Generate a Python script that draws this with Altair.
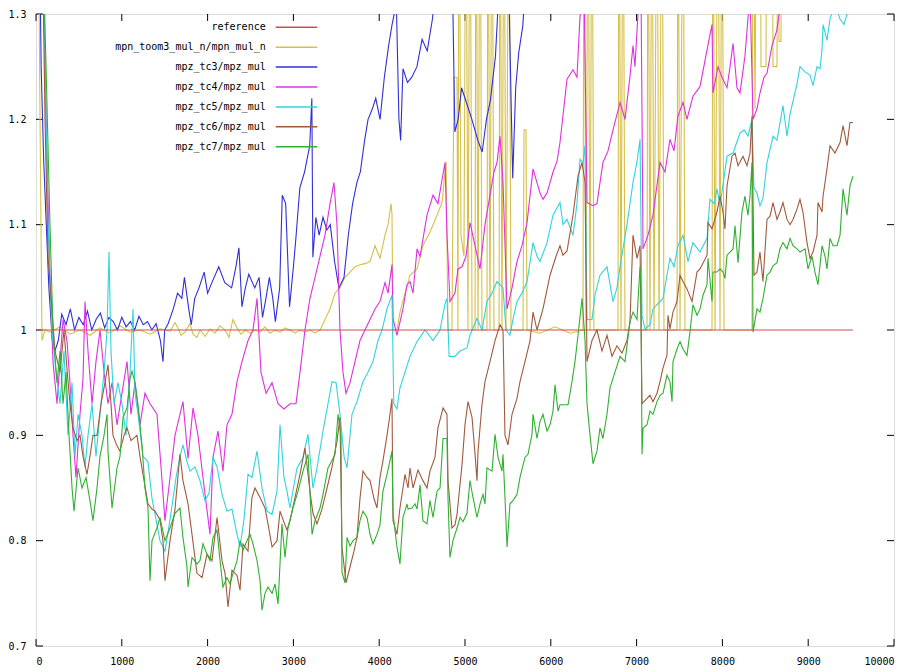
import altair as alt
import pandas as pd

NAMES = ["reference", "mpn_toom3_mul_n/mpn_mul_n", "mpz_tc3/mpz_mul", "mpz_tc4/mpz_mul",
         "mpz_tc5/mpz_mul", "mpz_tc6/mpz_mul", "mpz_tc7/mpz_mul"]
COLORS = ["#d04c4c", "#d6c04a", "#3030d8", "#e030e0", "#30d4dc", "#a05a3c", "#30b030"]

X_TICKS = [0, 1000, 2000, 3000, 4000, 5000, 6000, 7000, 8000, 9000, 10000]
Y_TICKS = [0.7, 0.8, 0.9, 1.0, 1.1, 1.2, 1.3]

REFERENCE = [(20, 1.0), (9520, 1.0)]

TOOM3 = [(23, 1.45), (47, 1.2), (70, 0.99), (105, 1.0), (163, 0.998), (280, 1.003), (396, 0.996),
         (513, 1.0), (629, 0.995), (746, 1.002), (862, 0.997), (979, 1.004), (1096, 0.998),
         (1212, 1.0), (1329, 0.996), (1445, 1.001), (1562, 0.999), (1620, 1.007), (1655, 1.002),
         (1690, 0.995), (1737, 0.998), (1795, 1.006), (1830, 0.996), (1876, 0.993), (1911, 1.0),
         (1970, 0.994), (2028, 1.001), (2086, 0.997), (2145, 1.004), (2203, 1.0), (2249, 0.993),
         (2296, 1.01), (2343, 1.002), (2389, 0.996), (2436, 1.0), (2494, 0.997), (2552, 1.0),
         (2611, 0.998), (2669, 1.003), (2727, 0.997), (2786, 1.0), (2844, 0.998), (2902, 1.002),
         (2960, 1.0), (3019, 0.997), (3077, 1.0), (3135, 0.998), (3193, 1.0), (3252, 0.997),
         (3310, 1.0), (3368, 1.01), (3427, 1.02), (3485, 1.035), (3543, 1.04), (3601, 1.05),
         (3660, 1.055), (3718, 1.06), (3776, 1.062), (3834, 1.063), (3893, 1.065), (3951, 1.08),
         (4009, 1.068), (4068, 1.09), (4103, 1.1), (4138, 1.12), (4149, 1.11), (4161, 1.0),
         (4207, 1.0), (4242, 1.017), (4301, 1.035), (4359, 1.052), (4441, 1.058), (4510, 1.08),
         (4592, 1.093), (4674, 1.109), (4732, 1.121), (4779, 1.16), (4802, 1.0), (4848, 1.0),
         (4871, 1.24), (4907, 1.24), (4918, 1.0), (4930, 1.5), (4953, 1.09), (4988, 1.07),
         (5012, 1.5), (5035, 1.0), (5058, 1.5), (5082, 1.0), (5117, 1.0), (5128, 1.5), (5152, 1.0),
         (5175, 1.5), (5198, 1.0), (5256, 1.0), (5268, 1.5), (5291, 1.0), (5315, 1.5), (5338, 1.0),
         (5397, 1.0), (5408, 1.5), (5431, 1.0), (5455, 1.5), (5478, 1.0), (5513, 1.5), (5536, 1.0),
         (5676, 1.0), (5688, 1.19), (5711, 1.19), (5723, 1.0), (5874, 0.997), (6049, 1.003),
         (6224, 0.997), (6375, 1.0), (6387, 1.5), (6410, 1.0), (6434, 1.5), (6457, 1.0),
         (6480, 1.5), (6503, 1.0), (6783, 1.0), (6795, 1.5), (6818, 1.0), (6842, 1.5), (6865, 1.0),
         (7121, 1.0), (7133, 1.5), (7156, 1.0), (7179, 1.5), (7203, 1.0), (7238, 1.5), (7261, 1.0),
         (7296, 1.5), (7319, 1.0), (7471, 1.0), (7482, 1.5), (7506, 1.0), (7541, 1.5), (7564, 1.0),
         (7879, 1.0), (7890, 1.5), (7914, 1.0), (7949, 1.5), (7972, 1.0), (7995, 1.5), (8019, 1.0),
         (8345, 1.0), (8357, 1.5), (8380, 1.21), (8403, 1.5), (8438, 1.5), (8450, 1.25),
         (8508, 1.25), (8520, 1.5), (8578, 1.5), (8590, 1.25), (8636, 1.25), (8648, 1.5),
         (8660, 1.274), (8683, 1.274), (8695, 1.5), (8788, 1.5)]

TC3 = [(30, 1.45), (60, 1.25), (90, 1.16), (120, 1.1), (150, 1.04), (190, 0.99), (220, 0.98),
       (260, 0.99), (300, 1.015), (350, 1.005), (400, 1.02), (450, 1.0), (500, 1.012),
       (550, 1.005), (600, 1.018), (650, 1.0), (700, 1.01), (750, 1.016), (800, 1.002),
       (850, 1.012), (900, 1.008), (950, 1.0), (1000, 1.012), (1050, 1.003), (1100, 1.008),
       (1150, 1.0), (1200, 1.013), (1250, 1.005), (1300, 1.008), (1350, 1.0), (1400, 1.006),
       (1450, 0.99), (1480, 0.97), (1500, 1.0), (1540, 1.006), (1600, 1.02), (1650, 1.035),
       (1700, 1.03), (1730, 1.05), (1780, 1.02), (1810, 1.005), (1850, 1.03), (1900, 1.04),
       (1960, 1.055), (2000, 1.035), (2050, 1.045), (2130, 1.06), (2200, 1.045), (2280, 1.04),
       (2330, 1.06), (2365, 1.078), (2400, 1.022), (2440, 1.04), (2480, 1.053), (2550, 1.04),
       (2600, 1.05), (2640, 1.012), (2680, 1.03), (2720, 1.05), (2760, 1.03), (2790, 1.008),
       (2840, 1.04), (2870, 1.128), (2910, 1.12), (2955, 1.022), (3000, 1.06), (3030, 1.088),
       (3075, 1.135), (3130, 1.15), (3190, 1.175), (3215, 1.22), (3227, 1.069), (3262, 1.107),
       (3300, 1.09), (3345, 1.107), (3390, 1.095), (3430, 1.1), (3480, 1.065), (3530, 1.04),
       (3590, 1.05), (3640, 1.09), (3690, 1.12), (3740, 1.14), (3780, 1.15), (3830, 1.18),
       (3870, 1.2), (3920, 1.21), (3960, 1.22), (4010, 1.2), (4060, 1.24), (4110, 1.27),
       (4150, 1.29), (4200, 1.31), (4230, 1.2), (4250, 1.18), (4277, 1.248), (4330, 1.235),
       (4380, 1.24), (4440, 1.25), (4500, 1.276), (4560, 1.265), (4620, 1.295), (4700, 1.35),
       (4800, 1.38), (4850, 1.35), (4882, 1.188), (4920, 1.2), (4960, 1.23), (5000, 1.22),
       (5080, 1.2), (5150, 1.18), (5200, 1.169), (5250, 1.2), (5296, 1.218), (5355, 1.26),
       (5400, 1.33), (5450, 1.4), (5496, 1.38), (5556, 1.144), (5591, 1.23), (5626, 1.263),
       (5674, 1.289), (5720, 1.35), (5800, 1.4), (5900, 1.45)]

TC4 = [(70, 1.4), (117, 1.2), (163, 1.05), (198, 0.97), (245, 0.93), (280, 0.97), (315, 1.01),
       (361, 0.99), (396, 0.95), (431, 0.9), (466, 0.86), (513, 0.92), (548, 0.954), (571, 1.027),
       (606, 0.98), (653, 0.93), (699, 0.97), (746, 1.0), (793, 0.96), (839, 0.93), (886, 0.95),
       (944, 0.91), (1002, 0.94), (1061, 0.97), (1107, 0.92), (1154, 0.95), (1212, 0.91),
       (1270, 0.94), (1329, 0.93), (1410, 0.92), (1457, 0.87), (1503, 0.819), (1562, 0.86),
       (1620, 0.9), (1678, 0.92), (1713, 0.932), (1772, 0.878), (1830, 0.926), (1888, 0.9),
       (1946, 0.86), (2028, 0.806), (2063, 0.879), (2121, 0.904), (2179, 0.866), (2226, 0.91),
       (2284, 0.92), (2343, 0.951), (2401, 0.97), (2471, 0.99), (2529, 1.0), (2576, 1.03),
       (2622, 0.96), (2681, 0.94), (2751, 0.95), (2821, 0.93), (2890, 0.925), (2960, 0.93),
       (3030, 0.93), (3077, 0.96), (3135, 1.0), (3193, 1.03), (3252, 1.05), (3310, 1.07),
       (3368, 1.09), (3427, 1.12), (3473, 1.14), (3508, 1.1), (3543, 1.0), (3578, 0.96),
       (3613, 0.94), (3660, 0.95), (3718, 0.97), (3776, 0.99), (3834, 1.0), (3893, 1.01),
       (3951, 1.02), (4009, 1.027), (4068, 1.045), (4103, 1.035), (4149, 1.062), (4161, 1.011),
       (4207, 0.995), (4277, 1.02), (4324, 1.043), (4359, 1.046), (4394, 1.035), (4441, 1.077),
       (4476, 1.07), (4557, 1.109), (4627, 1.128), (4685, 1.12), (4767, 1.159), (4790, 1.09),
       (4825, 1.027), (4883, 1.035), (4918, 1.058), (4965, 1.06), (5012, 1.07), (5058, 1.102),
       (5117, 1.08), (5175, 1.058), (5233, 1.1), (5291, 1.128), (5338, 1.15), (5373, 1.159),
       (5408, 1.184), (5443, 1.14), (5490, 1.02), (5548, 1.04), (5606, 1.065), (5664, 1.08),
       (5723, 1.102), (5793, 1.153), (5839, 1.14), (5874, 1.13), (5909, 1.124), (5956, 1.13),
       (6026, 1.15), (6072, 1.16), (6107, 1.178), (6189, 1.238), (6259, 1.247), (6305, 1.24),
       (6340, 1.297), (6387, 1.33), (6422, 1.121), (6492, 1.118), (6538, 1.12), (6608, 1.159),
       (6667, 1.17), (6725, 1.19), (6807, 1.216), (6865, 1.2), (6923, 1.241), (6958, 1.27),
       (6981, 1.25), (7016, 1.3), (7051, 1.33), (7075, 1.077), (7133, 1.09), (7191, 1.109),
       (7273, 1.159), (7331, 1.15), (7389, 1.181), (7436, 1.17), (7482, 1.203), (7541, 1.216),
       (7587, 1.2), (7657, 1.222), (7739, 1.231), (7821, 1.266), (7879, 1.29), (7890, 1.225),
       (7949, 1.25), (7995, 1.24), (8054, 1.23), (8089, 1.25), (8124, 1.272), (8170, 1.23),
       (8205, 1.225), (8263, 1.26), (8322, 1.32), (8357, 1.2), (8403, 1.21), (8438, 1.225),
       (8485, 1.24), (8520, 1.244), (8578, 1.27), (8636, 1.285), (8695, 1.32), (8788, 1.36),
       (8904, 1.4)]

TC5 = [(70, 1.4), (105, 1.25), (140, 1.1), (186, 1.0), (233, 0.96), (280, 0.93), (326, 0.98),
       (373, 0.9), (420, 0.95), (455, 0.88), (490, 0.92), (536, 0.9), (571, 0.87), (606, 0.9),
       (653, 0.93), (699, 0.88), (746, 0.92), (793, 0.96), (828, 1.0), (851, 1.074), (874, 0.98),
       (909, 0.93), (956, 0.95), (1002, 0.93), (1049, 0.9), (1096, 0.96), (1131, 1.02),
       (1154, 0.94), (1189, 0.92), (1247, 0.88), (1305, 0.875), (1352, 0.84), (1399, 0.82),
       (1445, 0.8), (1503, 0.79), (1562, 0.82), (1632, 0.86), (1678, 0.88), (1713, 0.891),
       (1760, 0.875), (1795, 0.866), (1853, 0.87), (1911, 0.857), (1970, 0.838), (2016, 0.845),
       (2063, 0.879), (2110, 0.87), (2168, 0.844), (2226, 0.828), (2284, 0.83), (2343, 0.806),
       (2378, 0.794), (2424, 0.82), (2471, 0.863), (2517, 0.86), (2576, 0.885), (2634, 0.85),
       (2692, 0.828), (2751, 0.825), (2809, 0.847), (2844, 0.91), (2890, 0.86), (2925, 0.847),
       (2960, 0.831), (3042, 0.869), (3112, 0.879), (3170, 0.901), (3228, 0.85), (3275, 0.869),
       (3345, 0.904), (3403, 0.93), (3450, 0.951), (3497, 0.95), (3543, 0.92), (3590, 0.88),
       (3625, 0.869), (3683, 0.92), (3741, 0.932), (3811, 0.951), (3869, 0.96), (3928, 0.97),
       (3986, 0.99), (4033, 1.0), (4091, 1.02), (4149, 1.033), (4170, 0.93), (4207, 0.925),
       (4242, 0.945), (4301, 0.96), (4359, 0.975), (4441, 0.989), (4534, 1.0), (4627, 0.99),
       (4709, 1.0), (4767, 1.025), (4790, 1.03), (4815, 0.975), (4883, 0.975), (4942, 0.98),
       (5023, 0.983), (5058, 0.995), (5140, 1.011), (5198, 1.0), (5256, 1.027), (5315, 1.035),
       (5373, 1.046), (5443, 1.04), (5478, 1.0), (5524, 0.995), (5559, 1.01), (5606, 1.027),
       (5664, 1.035), (5723, 1.046), (5793, 1.083), (5839, 1.07), (5874, 1.065), (5956, 1.083),
       (6026, 1.109), (6107, 1.121), (6142, 1.1), (6189, 1.105), (6259, 1.09), (6305, 1.12),
       (6340, 1.162), (6375, 1.159), (6399, 1.175), (6422, 1.01), (6480, 1.01), (6515, 1.033),
       (6573, 1.052), (6655, 1.06), (6725, 1.027), (6771, 1.04), (6807, 1.06), (6888, 1.1),
       (6958, 1.14), (7005, 1.16), (7040, 1.181), (7063, 1.014), (7098, 1.001), (7156, 1.005),
       (7191, 1.02), (7249, 1.025), (7308, 1.03), (7354, 1.052), (7389, 1.068), (7436, 1.06),
       (7482, 1.08), (7541, 1.09), (7599, 1.065), (7657, 1.083), (7739, 1.074), (7821, 1.087),
       (7855, 1.124), (7902, 1.12), (7937, 1.134), (7972, 1.118), (8054, 1.165), (8124, 1.168),
       (8205, 1.187), (8252, 1.19), (8298, 1.184), (8345, 1.2), (8368, 1.135), (8403, 1.13),
       (8438, 1.118), (8473, 1.125), (8520, 1.159), (8590, 1.184), (8636, 1.18), (8706, 1.213),
       (8753, 1.184), (8788, 1.205), (8870, 1.234), (8904, 1.25), (8963, 1.245), (9021, 1.242),
       (9056, 1.232), (9103, 1.25), (9138, 1.248), (9161, 1.266), (9173, 1.29), (9219, 1.275),
       (9254, 1.295), (9312, 1.31), (9371, 1.295), (9417, 1.29), (9452, 1.3), (9510, 1.31)]

TC6 = [(70, 1.4), (105, 1.2), (140, 1.07), (186, 1.02), (221, 0.98), (280, 0.96), (326, 1.0),
       (361, 0.963), (396, 0.93), (431, 0.907), (478, 0.895), (513, 0.9), (548, 0.88),
       (594, 0.863), (629, 0.88), (664, 0.9), (711, 0.9), (758, 0.93), (804, 0.95), (839, 0.967),
       (874, 0.93), (897, 0.9), (944, 0.89), (979, 0.885), (1026, 0.9), (1061, 0.907),
       (1107, 0.895), (1177, 0.9), (1212, 0.88), (1247, 0.863), (1305, 0.835), (1352, 0.83),
       (1387, 0.828), (1445, 0.82), (1480, 0.8), (1503, 0.762), (1562, 0.8), (1620, 0.83),
       (1678, 0.882), (1713, 0.857), (1772, 0.835), (1818, 0.806), (1876, 0.769), (1935, 0.765),
       (1993, 0.787), (2051, 0.781), (2110, 0.822), (2168, 0.781), (2203, 0.769), (2238, 0.737),
       (2284, 0.772), (2343, 0.767), (2378, 0.753), (2413, 0.797), (2471, 0.79), (2517, 0.841),
       (2552, 0.85), (2611, 0.841), (2669, 0.831), (2704, 0.816), (2751, 0.794), (2809, 0.8),
       (2844, 0.828), (2879, 0.82), (2925, 0.81), (2960, 0.819), (3019, 0.841), (3077, 0.863),
       (3135, 0.888), (3193, 0.847), (3228, 0.826), (3275, 0.816), (3333, 0.83), (3392, 0.85),
       (3450, 0.87), (3508, 0.894), (3543, 0.917), (3566, 0.794), (3613, 0.76), (3660, 0.775),
       (3706, 0.79), (3741, 0.803), (3776, 0.84), (3811, 0.866), (3858, 0.86), (3893, 0.857),
       (3939, 0.84), (3974, 0.831), (4009, 0.86), (4044, 0.876), (4091, 0.9), (4126, 0.92),
       (4149, 0.935), (4161, 0.819), (4207, 0.806), (4242, 0.831), (4301, 0.863), (4336, 0.85),
       (4359, 0.869), (4394, 0.85), (4452, 0.867), (4510, 0.857), (4557, 0.85), (4592, 0.866),
       (4650, 0.879), (4685, 0.907), (4744, 0.926), (4790, 0.92), (4802, 0.857), (4848, 0.812),
       (4883, 0.815), (4907, 0.825), (4965, 0.872), (5000, 0.91), (5035, 0.932), (5082, 0.917),
       (5117, 0.882), (5140, 0.857), (5152, 0.885), (5198, 0.929), (5233, 0.951), (5291, 0.97),
       (5350, 0.99), (5408, 1.005), (5443, 1.0), (5466, 0.9), (5501, 0.891), (5548, 0.92),
       (5606, 0.935), (5641, 0.951), (5699, 0.97), (5758, 0.99), (5793, 1.017), (5839, 1.0),
       (5909, 1.02), (5991, 1.052), (6061, 1.07), (6107, 1.08), (6142, 1.071), (6189, 1.075),
       (6259, 1.109), (6317, 1.146), (6364, 1.159), (6399, 1.14), (6422, 0.97), (6480, 0.99),
       (6538, 1.0), (6597, 0.98), (6655, 0.995), (6713, 0.975), (6771, 0.985), (6830, 0.978),
       (6888, 0.99), (6923, 1.008), (6958, 1.09), (7005, 1.068), (7040, 1.08), (7063, 0.93),
       (7121, 0.935), (7156, 0.938), (7191, 0.932), (7238, 0.94), (7273, 0.951), (7308, 0.964),
       (7354, 0.976), (7366, 1.014), (7389, 1.001), (7424, 1.017), (7471, 1.027), (7506, 1.052),
       (7541, 1.046), (7587, 1.039), (7646, 1.027), (7704, 1.055), (7739, 1.058), (7821, 1.071),
       (7832, 1.102), (7879, 1.096), (7937, 1.112), (7972, 1.127), (8007, 1.112), (8030, 1.096),
       (8054, 1.137), (8112, 1.165), (8147, 1.168), (8182, 1.156), (8240, 1.165), (8287, 1.156),
       (8322, 1.168), (8345, 1.203), (8368, 1.052), (8403, 1.055), (8438, 1.074), (8473, 1.046),
       (8520, 1.105), (8555, 1.108), (8590, 1.121), (8636, 1.105), (8671, 1.112), (8706, 1.121),
       (8753, 1.105), (8788, 1.1), (8823, 1.105), (8870, 1.115), (8904, 1.124), (8939, 1.112),
       (8986, 1.083), (9021, 1.068), (9056, 1.074), (9103, 1.09), (9114, 1.121), (9161, 1.112),
       (9173, 1.127), (9219, 1.153), (9254, 1.175), (9312, 1.168), (9371, 1.178), (9406, 1.194),
       (9452, 1.175), (9487, 1.197), (9522, 1.197)]

TC7 = [(70, 1.4), (117, 1.25), (163, 1.1), (198, 1.0), (245, 0.95), (280, 0.98), (315, 0.93),
       (350, 0.96), (385, 0.9), (420, 0.85), (443, 0.828), (490, 0.869), (536, 0.85), (583, 0.86),
       (629, 0.838), (664, 0.819), (711, 0.85), (746, 0.88), (793, 0.9), (828, 0.92), (839, 0.885),
       (886, 0.831), (944, 0.869), (979, 0.88), (1014, 0.917), (1061, 0.926), (1096, 0.954),
       (1119, 0.961), (1154, 0.95), (1189, 0.929), (1235, 0.891), (1270, 0.85), (1305, 0.831),
       (1329, 0.762), (1352, 0.8), (1410, 0.812), (1445, 0.822), (1503, 0.8), (1562, 0.812),
       (1620, 0.826), (1678, 0.831), (1713, 0.803), (1760, 0.775), (1772, 0.756), (1818, 0.784),
       (1876, 0.778), (1911, 0.781), (1946, 0.797), (1993, 0.787), (2028, 0.781), (2063, 0.803),
       (2110, 0.81), (2145, 0.781), (2179, 0.756), (2226, 0.765), (2261, 0.759), (2296, 0.769),
       (2343, 0.781), (2378, 0.8), (2413, 0.791), (2459, 0.8), (2494, 0.806), (2529, 0.797),
       (2576, 0.781), (2611, 0.762), (2634, 0.734), (2669, 0.75), (2704, 0.756), (2751, 0.75),
       (2786, 0.759), (2821, 0.74), (2867, 0.816), (2902, 0.784), (2937, 0.812), (2995, 0.831),
       (3054, 0.847), (3112, 0.866), (3170, 0.882), (3217, 0.806), (3252, 0.819), (3310, 0.831),
       (3345, 0.844), (3403, 0.869), (3450, 0.876), (3485, 0.882), (3520, 0.92), (3555, 0.9),
       (3566, 0.77), (3601, 0.76), (3625, 0.803), (3660, 0.795), (3695, 0.8), (3741, 0.803),
       (3776, 0.819), (3811, 0.828), (3858, 0.822), (3893, 0.806), (3928, 0.797), (3974, 0.806),
       (4009, 0.815), (4044, 0.847), (4091, 0.863), (4126, 0.876), (4149, 0.885), (4161, 0.826),
       (4207, 0.794), (4242, 0.778), (4277, 0.822), (4324, 0.835), (4336, 0.83), (4382, 0.831),
       (4417, 0.835), (4441, 0.83), (4476, 0.853), (4510, 0.819), (4557, 0.816), (4592, 0.838),
       (4627, 0.822), (4674, 0.847), (4709, 0.85), (4744, 0.897), (4790, 0.897), (4802, 0.84),
       (4825, 0.784), (4860, 0.8), (4907, 0.812), (4942, 0.822), (4977, 0.818), (5023, 0.826),
       (5058, 0.857), (5093, 0.841), (5140, 0.822), (5175, 0.835), (5210, 0.844), (5233, 0.835),
       (5256, 0.869), (5315, 0.866), (5350, 0.901), (5385, 0.879), (5431, 0.866), (5443, 0.882),
       (5466, 0.841), (5490, 0.794), (5524, 0.835), (5559, 0.838), (5606, 0.844), (5641, 0.86),
       (5699, 0.879), (5734, 0.882), (5781, 0.901), (5793, 0.92), (5839, 0.897), (5874, 0.913),
       (5909, 0.92), (5956, 0.904), (5991, 0.91), (6026, 0.923), (6049, 0.948), (6084, 0.923),
       (6107, 0.929), (6142, 0.929), (6201, 0.929), (6247, 0.951), (6282, 0.97), (6317, 0.995),
       (6364, 1.03), (6399, 0.99), (6422, 0.93), (6457, 0.9), (6492, 0.873), (6538, 0.885),
       (6573, 0.907), (6608, 0.897), (6655, 0.92), (6690, 0.945), (6748, 0.96), (6807, 0.975),
       (6865, 0.97), (6923, 1.008), (6958, 1.017), (7005, 1.01), (7016, 1.027), (7040, 1.06),
       (7051, 1.04), (7063, 0.882), (7075, 0.907), (7121, 0.91), (7156, 0.923), (7191, 0.92),
       (7238, 0.932), (7273, 0.938), (7308, 0.94), (7354, 0.957), (7389, 0.951), (7413, 0.932),
       (7424, 0.97), (7471, 0.982), (7506, 0.989), (7541, 0.982), (7587, 0.976), (7622, 0.998),
       (7657, 1.024), (7704, 1.014), (7739, 1.02), (7774, 1.033), (7821, 1.043), (7832, 1.068),
       (7879, 1.027), (7890, 1.055), (7937, 1.055), (7972, 1.058), (8007, 1.055), (8030, 1.049),
       (8054, 1.071), (8089, 1.074), (8124, 1.077), (8147, 1.099), (8182, 1.064), (8228, 1.112),
       (8263, 1.127), (8298, 1.109), (8322, 1.127), (8345, 1.159), (8357, 0.998), (8403, 1.02),
       (8438, 1.017), (8473, 1.03), (8520, 1.052), (8555, 1.055), (8590, 1.061), (8636, 1.064),
       (8671, 1.077), (8706, 1.083), (8753, 1.077), (8788, 1.087), (8823, 1.08), (8870, 1.077),
       (8904, 1.074), (8963, 1.077), (8998, 1.058), (9044, 1.07), (9079, 1.055), (9114, 1.043),
       (9161, 1.08), (9196, 1.07), (9219, 1.058), (9254, 1.087), (9289, 1.08), (9336, 1.08),
       (9371, 1.09), (9406, 1.134), (9452, 1.109), (9487, 1.137), (9522, 1.146)]

SERIES = {
    "reference": REFERENCE,
    "mpn_toom3_mul_n/mpn_mul_n": TOOM3,
    "mpz_tc3/mpz_mul": TC3,
    "mpz_tc4/mpz_mul": TC4,
    "mpz_tc5/mpz_mul": TC5,
    "mpz_tc6/mpz_mul": TC6,
    "mpz_tc7/mpz_mul": TC7,
}
DRAW_ORDER = ["mpn_toom3_mul_n/mpn_mul_n", "mpz_tc3/mpz_mul", "mpz_tc4/mpz_mul",
              "mpz_tc5/mpz_mul", "mpz_tc6/mpz_mul", "mpz_tc7/mpz_mul", "reference"]

FONT = "DejaVu Sans Mono"
W, H = 858, 632
TICK_X = 82       # ~7px inward tick, in x units
TICK_Y = 0.0066   # ~7px inward tick, in y units

x_scale = alt.Scale(domain=[0, 10000], nice=False, zero=False)
y_scale = alt.Scale(domain=[0.7, 1.3], nice=False, zero=False)
color_scale = alt.Scale(domain=NAMES, range=COLORS)

x_axis = alt.Axis(values=X_TICKS, format="d", title=None, domain=False, ticks=False, grid=False,
                  labelFont=FONT, labelFontSize=10, labelColor="#000000", labelPadding=10)
y_axis = alt.Axis(values=Y_TICKS, format="~g", title=None, domain=False, ticks=False, grid=False,
                  labelFont=FONT, labelFontSize=10, labelColor="#000000", labelPadding=10)

layers = []

ytick_df = pd.DataFrame({
    "v": Y_TICKS * 2,
    "a": [0] * len(Y_TICKS) + [10000 - TICK_X] * len(Y_TICKS),
    "b": [TICK_X] * len(Y_TICKS) + [10000] * len(Y_TICKS),
})
layers.append(alt.Chart(ytick_df).mark_rule(color="black", strokeWidth=1).encode(
    x=alt.X("a:Q", scale=x_scale, axis=x_axis), x2="b:Q",
    y=alt.Y("v:Q", scale=y_scale, axis=y_axis)))

xtick_df = pd.DataFrame({
    "t": X_TICKS * 2,
    "a": [0.7] * len(X_TICKS) + [1.3 - TICK_Y] * len(X_TICKS),
    "b": [0.7 + TICK_Y] * len(X_TICKS) + [1.3] * len(X_TICKS),
})
layers.append(alt.Chart(xtick_df).mark_rule(color="black", strokeWidth=1).encode(
    x=alt.X("t:Q", scale=x_scale, axis=x_axis),
    y=alt.Y("a:Q", scale=y_scale, axis=y_axis), y2="b:Q"))

for name in DRAW_ORDER:
    pts = SERIES[name]
    df = pd.DataFrame({"x": [p[0] for p in pts], "v": [p[1] for p in pts], "name": name})
    layers.append(alt.Chart(df).mark_line(clip=True, strokeWidth=1.1).encode(
        x=alt.X("x:Q", scale=x_scale, axis=x_axis),
        y=alt.Y("v:Q", scale=y_scale, axis=y_axis),
        color=alt.Color("name:N", scale=color_scale, legend=None),
        order="x:Q"))

main = alt.layer(*layers)

leg_df = pd.DataFrame({"name": NAMES})
leg_y = alt.Y("name:N", scale=alt.Scale(type="point", domain=NAMES, range=[13.3, 132.7], padding=0),
              axis=None)
leg_text = alt.Chart(leg_df).mark_text(align="right", baseline="middle", font=FONT, fontSize=10,
                                       color="#000000").encode(
    x=alt.value(229.7), y=leg_y, text="name:N")
leg_rule = alt.Chart(leg_df).mark_rule(strokeWidth=1.5).encode(
    x=alt.value(239.7), x2=alt.value(281.3), y=leg_y,
    color=alt.Color("name:N", scale=color_scale, legend=None))
legend = alt.layer(leg_text, leg_rule)

chart = alt.layer(main, legend).resolve_scale(y="independent").properties(
    width=W, height=H,
    autosize=alt.AutoSizeParams(type="none"),
    padding={"left": 28, "top": 6, "right": 13, "bottom": 26},
).configure_view(stroke="#000000", strokeWidth=1.5).configure(background="white")

chart.save("out.html", embed_options={"renderer": "svg", "actions": False})
